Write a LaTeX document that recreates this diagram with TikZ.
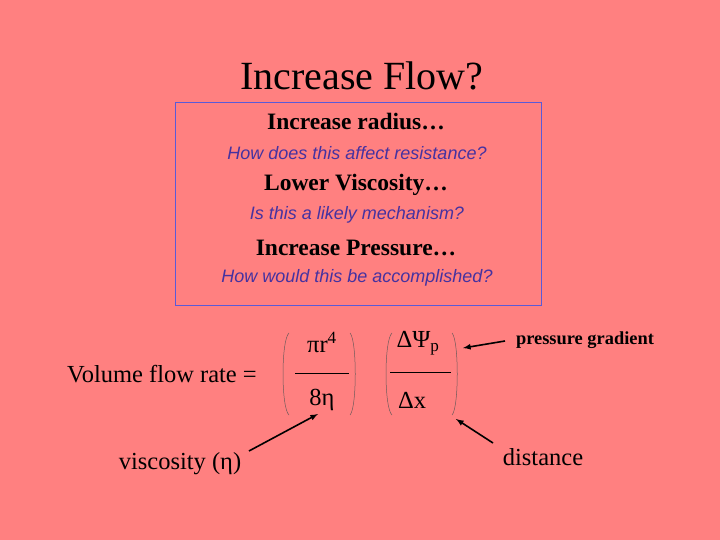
\documentclass[tikz,border=0pt]{standalone}
\usepackage{fontspec}
\setmainfont{Liberation Serif}
\newfontfamily\itsans{Liberation Sans}
\definecolor{bg}{RGB}{255,128,128}
\definecolor{boxc}{RGB}{90,90,215}
\definecolor{itc}{RGB}{70,50,160}
\definecolor{par}{RGB}{110,90,90}
\begin{document}
\begin{tikzpicture}[x=1pt,y=-1pt,
  bold/.style={font=\fontsize{23.5}{25}\selectfont\bfseries},
  ital/.style={font=\itsans\fontsize{18}{20}\selectfont\itshape,text=itc},
  txt/.style={font=\fontsize{24.5}{26}\selectfont},
  arr/.style={-latex,line width=1.6pt}]
\fill[bg] (0,0) rectangle (720,540);
\useasboundingbox (0,0) rectangle (720,540);
\node[font=\fontsize{40}{42}\selectfont] (title) at (362,76) {Increase Flow?};
\draw[boxc,line width=0.8pt] (175,102) rectangle (541,305);
\node[bold] (r) at (356,122) {Increase radius…};
\node[ital] (q1) at (357,153) {How does this affect resistance?};
\node[bold] (v) at (356,185) {Lower Viscosity…};
\node[ital] (q2) at (357,215) {Is this a likely mechanism?};
\node[bold] (p) at (356,248) {Increase Pressure…};
\node[ital] (q3) at (357,278) {How would this be accomplished?};
\node[txt] (vfr) at (162,374) {Volume flow rate =};
\node[txt] (vis) at (180,464) {viscosity (η)};
\node[txt] (num1) at (322,342) {πr\textsuperscript{4}};
\node[txt] (den1) at (322,400) {8η};
\node[txt] (num2) at (418,343) {ΔΨ\textsubscript{p}};
\node[txt] (den2) at (412,400) {Δx};
\draw[line width=0.6pt] (295,373) -- (349,373);
\draw[line width=0.6pt] (390,372) -- (451,372);
\draw[par,line width=0.5pt] (289,333) .. controls (281,340) and (281,408) .. (289,415);
\draw[par,line width=0.5pt] (350,333) .. controls (357,340) and (357,408) .. (350,415);
\draw[par,line width=0.5pt] (392,333) .. controls (384,340) and (384,408) .. (392,415);
\draw[par,line width=0.5pt] (452,333) .. controls (459,340) and (459,408) .. (452,415);
\node[font=\fontsize{18.4}{20}\selectfont\bfseries] (pg) at (585,340) {pressure gradient};
\node[txt] (dist) at (543,457) {distance};
\coordinate (a1) at (249,451);
\coordinate (a1e) at (318,414);
\coordinate (a2) at (505,341);
\coordinate (a2e) at (463,348);
\coordinate (a3) at (493,443);
\coordinate (a3e) at (456,419);
\draw[arr] (a1) -- (a1e);
\draw[arr] (a2) -- (a2e);
\draw[arr] (a3) -- (a3e);
\end{tikzpicture}
\end{document}
